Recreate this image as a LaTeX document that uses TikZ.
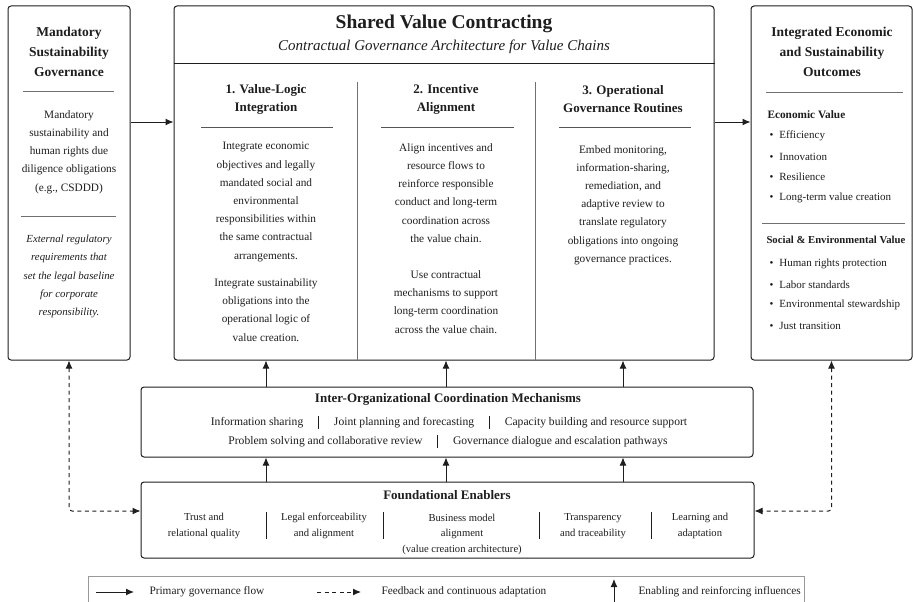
\documentclass[tikz,border=0pt]{standalone}
\usepackage{fontspec}
\setmainfont{Liberation Serif}
\usepackage{xcolor}
\usetikzlibrary{arrows.meta}
\definecolor{ink}{HTML}{1E1E1E}
\definecolor{rulegray}{HTML}{707070}
\newcommand{\barsep}{\hspace{15pt}\rule[-3pt]{0.7pt}{13pt}\hspace{15pt}}
\tikzset{
  panel/.style    = {draw=ink, line width=1pt, rounded corners=3pt, fill=white, inner sep=0pt},
  headtxt/.style  = {align=center, text=ink, font=\fontsize{13.5}{20}\selectfont\bfseries},
  colhead/.style  = {align=center, text=ink, font=\fontsize{13}{18}\selectfont\bfseries},
  body/.style     = {align=center, text=ink, font=\fontsize{11.3}{18.2}\selectfont},
  note/.style     = {align=center, text=ink, font=\fontsize{10.8}{18.3}\selectfont\itshape},
  enabler/.style  = {align=center, text=ink, font=\fontsize{10.6}{15.5}\selectfont},
  subhead/.style  = {anchor=west, text=ink, font=\fontsize{11.3}{14}\selectfont\bfseries},
  bullet/.style   = {anchor=west, text=ink, font=\fontsize{11}{14}\selectfont},
  legtxt/.style   = {anchor=west, text=ink, font=\fontsize{11.3}{14}\selectfont},
  divider/.style  = {draw=rulegray, line width=0.8pt},
  flow/.style     = {draw=ink, line width=1pt, -{Latex[length=8pt,width=7pt]}},
  feedback/.style = {draw=ink, line width=1pt, dash pattern=on 4pt off 3.5pt,
                     rounded corners=3pt,
                     {Latex[length=8pt,width=7pt]}-{Latex[length=8pt,width=7pt]}}
}

\begin{document}
\begin{tikzpicture}[x=1pt, y=-1pt]
  \useasboundingbox (0,0) rectangle (913,602);

  \node[panel, minimum width=122pt, minimum height=354pt] (gov) at (69,183) {};
  \node[panel, minimum width=540pt, minimum height=354pt] (svc) at (444,183) {};
  \node[panel, minimum width=161pt, minimum height=354pt] (res) at (831.5,183) {};
  \node[panel, minimum width=612pt, minimum height=70pt] (coord) at (447,422) {};
  \node[panel, minimum width=613pt, minimum height=76pt] (found) at (447.5,520) {};

  % mandatory governance
  \node[headtxt] (govt) at (69,51.5) {Mandatory\\Sustainability\\Governance};
  \draw[divider] (23,91) -- (114,91);
  \node[body] (govb) at (69,152) {Mandatory\\sustainability and\\human rights due\\diligence obligations\\(e.g., CSDDD)};
  \draw[divider] (21,216) -- (116,216);
  \node[note] (govn) at (69,276.5) {External regulatory\\requirements that\\set the legal baseline\\for corporate\\responsibility.};

  % shared value contracting
  \node[text=ink, font=\fontsize{19.5}{22}\selectfont\bfseries] (svct) at (444,24) {Shared Value Contracting};
  \node[text=ink, font=\fontsize{15}{18}\selectfont\itshape] (svcs) at (444,47) {Contractual Governance Architecture for Value Chains};
  \draw[draw=ink, line width=1pt] (svc.west |- 0,64) -- (svc.east |- 0,64);
  \draw[divider] (357,82) -- (svc.south -| 357,0);
  \draw[divider] (535,82) -- (svc.south -| 535,0);

  \node[colhead] (c1) at (266,99) {1. Value-Logic\\Integration};
  \node[colhead] (c2) at (446,99) {2. Incentive\\Alignment};
  \node[colhead] (c3) at (623,99) {3. Operational\\Governance Routines};
  \draw[draw=ink!75, line width=0.8pt] (201,127) -- (333,127);
  \draw[draw=ink!75, line width=0.8pt] (381,127) -- (514,127);
  \draw[draw=ink!75, line width=0.8pt] (559,127) -- (691,127);

  \node[body] (c1a) at (266,202) {Integrate economic\\objectives and legally\\mandated social and\\environmental\\responsibilities within\\the same contractual\\arrangements.};
  \node[body] (c1b) at (266,310) {Integrate sustainability\\obligations into the\\operational logic of\\value creation.};
  \node[body] (c2a) at (446,193) {Align incentives and\\resource flows to\\reinforce responsible\\conduct and long-term\\coordination across\\the value chain.};
  \node[body] (c2b) at (446,302) {Use contractual\\mechanisms to support\\long-term coordination\\across the value chain.};
  \node[body] (c3a) at (623,205) {Embed monitoring,\\information-sharing,\\remediation, and\\adaptive review to\\translate regulatory\\obligations into ongoing\\governance practices.};

  % outcomes
  \node[headtxt] (rest) at (832,51.5) {Integrated Economic\\and Sustainability\\Outcomes};
  \draw[divider] (766,92) -- (903,92);
  \node[subhead] (econ) at (764,115) {Economic Value};
  \foreach \txt [count=\i] in {Efficiency, Innovation, Resilience, Long-term value creation}
    \node[bullet] (econ\i) at (766,{136+20.5*(\i-1)}) {\textbullet\hspace{6pt}\txt};
  \draw[divider] (762,223) -- (905,223);
  \node[subhead, font=\fontsize{10.7}{14}\selectfont\bfseries] (soc) at (763,240) {Social \& Environmental Value};
  \foreach \txt [count=\i] in {Human rights protection, Labor standards, Environmental stewardship, Just transition}
    \node[bullet] (soc\i) at (766,{264+20.5*(\i-1)}) {\textbullet\hspace{6pt}\txt};

  % coordination
  \node[colhead] (coordt) at (448,399) {Inter-Organizational Coordination Mechanisms};
  \node[body, font=\fontsize{11.6}{14}\selectfont] (coord1) at (449,422) {Information sharing\barsep Joint planning and forecasting\barsep Capacity building and resource support};
  \node[body, font=\fontsize{11.6}{14}\selectfont] (coord2) at (448,441) {Problem solving and collaborative review\barsep Governance dialogue and escalation pathways};

  % enablers
  \node[colhead] (foundt) at (447,495) {Foundational Enablers};
  \node[enabler] (f1) at (204,526) {Trust and\\relational quality};
  \node[enabler] (f2) at (324,526) {Legal enforceability\\and alignment};
  \node[enabler] (f3) at (462,534) {Business model\\alignment\\(value creation architecture)};
  \node[enabler] (f4) at (593,526) {Transparency\\and traceability};
  \node[enabler] (f5) at (700,526) {Learning and\\adaptation};
  \foreach \x in {266,383,539,651}
    \draw[draw=ink, line width=0.8pt] (\x,512) -- (\x,539);

  % connectors
  \draw[flow] ([yshift=61pt]gov.east) -- ([yshift=61pt]svc.west);
  \draw[flow] ([yshift=61pt]svc.east) -- ([yshift=61pt]res.west);
  \foreach \c in {c1,c2,c3} {
    \draw[flow] (coord.north -| \c) -- (svc.south -| \c);
    \draw[flow] (found.north -| \c) -- (coord.south -| \c);
  }
  \draw[feedback] (gov.south) |- ([yshift=9pt]found.west);
  \draw[feedback] (res.south) |- ([yshift=9pt]found.east);

  % legend
  \draw[draw=black!40, line width=0.8pt] (88,603) |- (804,576) -- (804,603);
  \coordinate (lgA) at (96,592);
  \node[legtxt] (lg1) at (146,592) {Primary governance flow};
  \draw[flow] (lgA) -- ([xshift=-12pt]lg1.west);
  \coordinate (lgB) at (317,592);
  \node[legtxt] (lg2) at (378,592) {Feedback and continuous adaptation};
  \draw[flow, dash pattern=on 4pt off 3.5pt] (lgB) -- ([xshift=-17pt]lg2.west);
  \coordinate (lgC) at (614,603);
  \node[legtxt] (lg3) at (635,592) {Enabling and reinforcing influences};
  \draw[flow] (lgC) -- ++(0,-24);
\end{tikzpicture}
\end{document}
